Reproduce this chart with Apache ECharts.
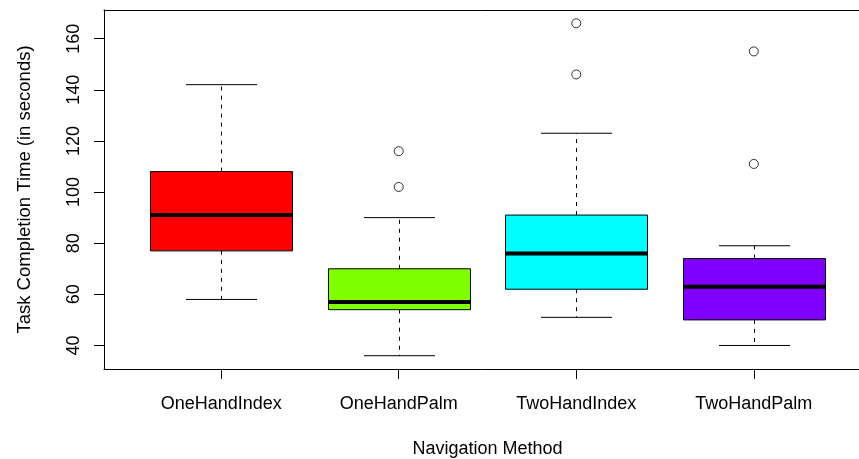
<!DOCTYPE html>
<html>
<head>
<meta charset="utf-8">
<script src="https://cdn.jsdelivr.net/npm/echarts@6/dist/echarts.min.js"></script>
<style>
html,body{margin:0;padding:0;background:#fff;}
#chart{width:859px;height:459px;}
</style>
</head>
<body>
<div id="chart"></div>
<script>
// Data
const categories = ['OneHandIndex', 'OneHandPalm', 'TwoHandIndex', 'TwoHandPalm'];
// [lower whisker, Q1, median, Q3, upper whisker]
const boxStats = [
  [58, 77, 91, 108, 142],
  [36, 54, 57, 70, 90],
  [51, 62, 76, 91, 123],
  [40, 50, 63, 74, 79]
];
// outliers: [category index (1-based), value]
const outliers = [
  [2, 102], [2, 116],
  [3, 146], [3, 166],
  [4, 111], [4, 155]
];
const boxColors = ['#FF0000', '#80FF00', '#00FFFF', '#8000FF'];
const yTicks = [40, 60, 80, 100, 120, 140, 160];
const xTicks = [1, 2, 3, 4];

const FONT = 'Liberation Sans, Arial, Helvetica, sans-serif';
const chart = echarts.init(document.getElementById('chart'), null, {renderer: 'canvas'});

const boxData = boxStats.map((s, i) => [i + 1].concat(s));

function renderBox(params, api) {
  const x = api.value(0);
  const lo = api.coord([x, api.value(1)]);
  const q1 = api.coord([x, api.value(2)]);
  const md = api.coord([x, api.value(3)]);
  const q3 = api.coord([x, api.value(4)]);
  const hi = api.coord([x, api.value(5)]);
  const unit = api.size([1, 0])[0];
  const hb = unit * 0.4, hc = unit * 0.2;
  const cx = Math.round(lo[0]) + 0.5;
  const dashStyle = {stroke: '#000', lineWidth: 1, lineDash: [4, 5]};
  const solid = {stroke: '#000', lineWidth: 1};
  return {
    type: 'group',
    children: [
      {type: 'line', shape: {x1: cx, y1: q3[1], x2: cx, y2: hi[1]}, style: dashStyle},
      {type: 'line', shape: {x1: cx, y1: q1[1], x2: cx, y2: lo[1]}, style: dashStyle},
      {type: 'line', shape: {x1: cx - hc, y1: hi[1], x2: cx + hc, y2: hi[1]}, style: solid},
      {type: 'line', shape: {x1: cx - hc, y1: lo[1], x2: cx + hc, y2: lo[1]}, style: solid},
      {type: 'rect', shape: {x: cx - hb, y: q3[1], width: 2 * hb, height: q1[1] - q3[1]},
        style: {fill: boxColors[params.dataIndex], stroke: '#000', lineWidth: 1}},
      {type: 'line', shape: {x1: cx - hb, y1: md[1], x2: cx + hb, y2: md[1]},
        style: {stroke: '#000', lineWidth: 4}}
    ]
  };
}

chart.setOption({
  animation: false,
  backgroundColor: '#fff',
  grid: {left: 104, top: 10, width: 767, height: 359, show: false, containLabel: false, outerBoundsMode: 'none'},
  xAxis: [{
    type: 'value', min: 0.34, max: 4.66, position: 'bottom',
    name: 'Navigation Method', nameLocation: 'middle', nameGap: 71,
    nameTextStyle: {fontFamily: FONT, fontSize: 18, color: '#000'},
    axisLine: {show: true, lineStyle: {color: '#000', width: 1}},
    splitLine: {show: false},
    axisTick: {show: true, customValues: xTicks, length: 10, inside: false, lineStyle: {color: '#000', width: 1}},
    axisLabel: {customValues: xTicks, margin: 26, fontFamily: FONT, fontSize: 18, color: '#000',
      formatter: v => categories[Math.round(v) - 1] || ''}
  }, {
    type: 'value', min: 0.34, max: 4.66, position: 'top',
    axisLine: {show: true, onZero: false, lineStyle: {color: '#000', width: 1}},
    axisTick: {show: false}, axisLabel: {show: false}, splitLine: {show: false}
  }],
  yAxis: {
    type: 'value', min: 30.8, max: 171.2,
    name: 'Task Completion Time (in seconds)', nameLocation: 'middle', nameRotate: 90, nameGap: 70,
    nameTextStyle: {fontFamily: FONT, fontSize: 18.5, color: '#000'},
    axisLine: {show: true, onZero: false, lineStyle: {color: '#000', width: 1}},
    splitLine: {show: false},
    axisTick: {show: true, customValues: yTicks, length: 10, inside: false, lineStyle: {color: '#000', width: 1}},
    axisLabel: {customValues: yTicks, rotate: 90, margin: 21, fontFamily: FONT, fontSize: 18, color: '#000'}
  },
  series: [
    {type: 'custom', renderItem: renderBox, data: boxData, encode: {x: 0, y: [1, 2, 3, 4, 5]}, clip: false},
    {type: 'scatter', data: outliers, symbol: 'circle', symbolSize: 9,
      itemStyle: {color: 'rgba(255,255,255,0)', borderColor: '#000', borderWidth: 1}}
  ]
});
</script>
</body>
</html>
